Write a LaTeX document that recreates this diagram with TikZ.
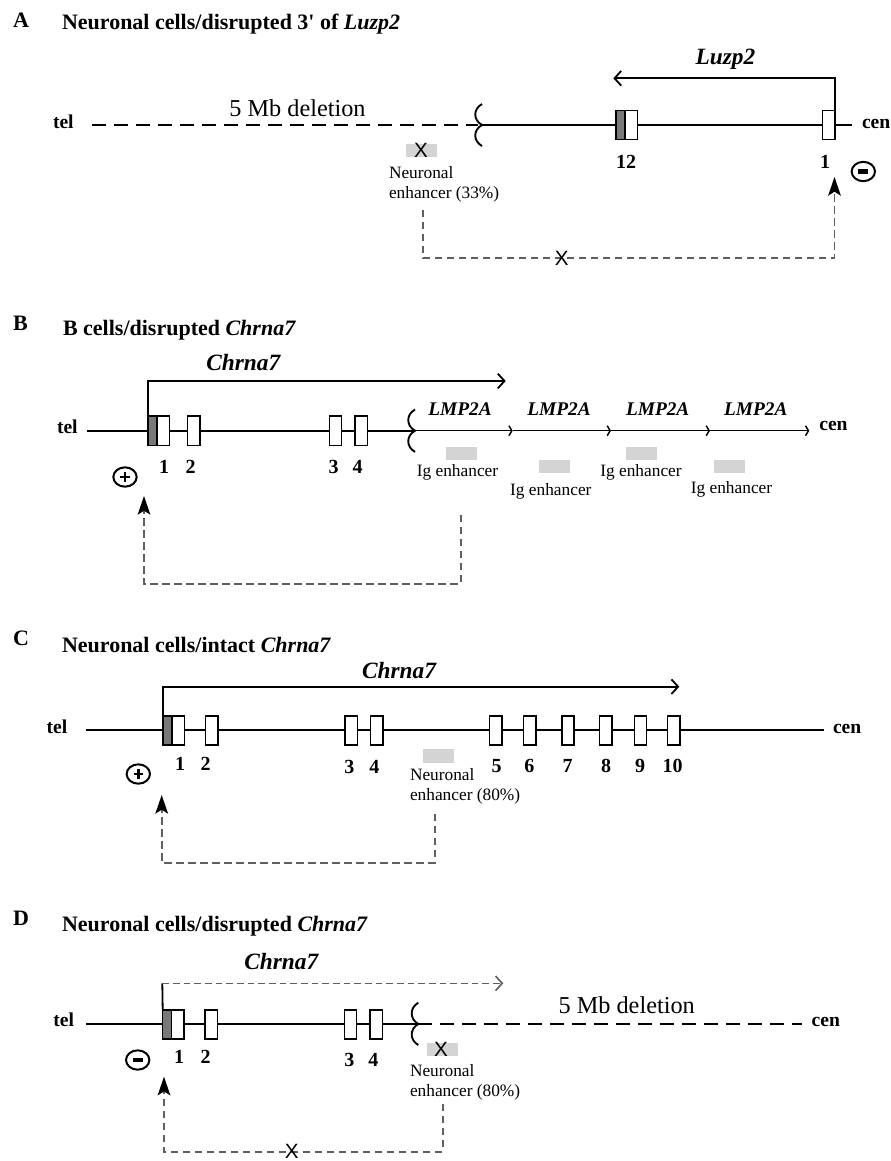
\documentclass[tikz,border=0pt]{standalone}
\usepackage{fontspec}
\setmainfont{Liberation Serif}
\newfontfamily\sansX{Liberation Sans}
\usetikzlibrary{arrows.meta,shapes.geometric}
\definecolor{enh}{RGB}{212,212,212}
\definecolor{exgray}{RGB}{120,120,120}
\definecolor{conncol}{RGB}{95,95,95}
\begin{document}
\begin{tikzpicture}[x=0.75pt,y=-0.75pt,
  every node/.style={inner sep=0pt, outer sep=0pt},
  panelletter/.style={font=\fontsize{16.5}{19}\selectfont\bfseries, anchor=base west},
  paneltitle/.style={font=\fontsize{16.5}{19}\selectfont\bfseries, anchor=base west},
  genelabel/.style={font=\fontsize{17.5}{20}\selectfont\bfseries\itshape, anchor=base},
  lmplabel/.style={font=\fontsize{14.5}{17}\selectfont\bfseries\itshape, anchor=base},
  endlabel/.style={font=\fontsize{14.7}{17}\selectfont\bfseries, anchor=base west},
  exnum/.style={font=\fontsize{15}{18}\selectfont\bfseries, anchor=base},
  enhtext/.style={font=\fontsize{13}{15.5}\selectfont, align=left, anchor=north west},
  igtext/.style={font=\fontsize{13}{15.5}\selectfont, anchor=base},
  deltext/.style={font=\fontsize{18.2}{21}\selectfont, anchor=base},
  xmark/.style={font=\fontsize{15.5}{15.5}\selectfont\sansX},
  exon/.style={draw=black, line width=1.15pt, fill=white, minimum width=9.3pt, minimum height=22pt},
  exongray/.style={exon, fill=exgray, minimum width=6.75pt},
  enhbox/.style={fill=enh, minimum width=23.3pt, minimum height=9.8pt},
  chrom/.style={line width=1.4pt},
  delline/.style={line width=1.4pt, dash pattern=on 10.5pt off 6pt},
  brk/.style={line width=1.4pt},
  tss/.style={line width=1.35pt, -{Straight Barb[length=5pt,width=11pt]}},
  tssdash/.style={draw=conncol, line width=1.2pt, dash pattern=on 5pt off 3pt, -{Straight Barb[length=5pt,width=11pt]}},
  lmparrow/.style={line width=1.1pt, -{Straight Barb[length=2.2pt,width=7.5pt]}},
  conn/.style={draw=conncol, line width=1.2pt, dash pattern=on 5.5pt off 3.5pt, -{Stealth[length=14pt,width=9.5pt,inset=3pt,color=black]}},
  signbase/.style={ellipse, draw, line width=1.5pt, minimum width=17.5pt, minimum height=14.5pt},
  signminus/.style={signbase, path picture={\fill ([xshift=-3.8pt,yshift=-1.6pt]path picture bounding box.center) rectangle ([xshift=3.8pt,yshift=1.6pt]path picture bounding box.center);}},
  signplus/.style={signbase, path picture={\draw[line width=1.8pt] ([xshift=-3.5pt]path picture bounding box.center) -- ([xshift=3.5pt]path picture bounding box.center) ([yshift=-3.5pt]path picture bounding box.center) -- ([yshift=3.5pt]path picture bounding box.center);}},
]
\useasboundingbox (0,0) rectangle (890,1161);

%%%%%%%%%%%%%%%%%%%% PANEL A
\node[panelletter] (aL) at (13,27) {A};
\node[paneltitle] (aT) at (62,29) {Neuronal cells/disrupted 3\textquotesingle{} of \textit{Luzp2}};
\node[endlabel] (atel) at (53,128.3) {tel};
\node[endlabel] (acen) at (862,128.3) {cen};
\coordinate (aS) at (92,125);
\coordinate (aBrk) at (482,125);
\coordinate (aE) at (852,125);
\draw[delline] (aS) -- (478,125);
\draw[chrom] (aBrk) -- (aE);
\draw[brk] (482,104) .. controls (473,109) and (473,120) .. (aBrk) .. controls (473,130) and (473,141) .. (482,146);
\node[deltext] (adel) at (297.5,116) {5 Mb deletion};
\node[exon] (a12) at (631.2,125) {};
\node[exongray, anchor=east] (a12g) at (a12.west) {};
\node[exon] (a1) at (828.8,125) {};
\node[exnum] (a12n) at (626,168.3) {12};
\node[exnum] (a1n) at (825,168.3) {1};
\coordinate (aLzEnd) at (613.3,78.3);
\draw[tss] (a1.north east) |- (aLzEnd);
\node[genelabel] (aLz) at (725.5,64.5) {Luzp2};
\node[enhbox] (aEnh) at (421.3,150.5) {};
\node[xmark] (aEnhX) at (421,150.5) {X};
\node[enhtext] (aEnhT) at (389,166.2) {Neuronal\\enhancer (33\%)};
\node[signminus] (aSign) at (863.3,171.5) {};
\coordinate (aES) at (422.7,210);
\coordinate (aCorner) at (834.5,258);
\coordinate (aPT) at (834.5,177);
\draw[conn] (aES) |- (aCorner) -- (aPT);
\node[xmark] (aConnX) at (561.7,258) {X};

%%%%%%%%%%%%%%%%%%%% PANEL B
\node[panelletter] (bL) at (13,330.7) {B};
\node[paneltitle] (bT) at (63,335) {B cells/disrupted \textit{Chrna7}};
\node[endlabel] (btel) at (57,433.3) {tel};
\node[endlabel] (bcen) at (819.3,430) {cen};
\coordinate (bS) at (87.3,430.7);
\coordinate (bBrk) at (415,430.7);
\coordinate (bl1) at (512.7,430.7);
\coordinate (bl2) at (611,430.7);
\coordinate (bl3) at (710,430.7);
\coordinate (bl4) at (809.3,430.7);
\draw[chrom] (bS) -- (bBrk);
\draw[brk] (415,409.5) .. controls (406,414.5) and (406,425.7) .. (bBrk) .. controls (406,435.7) and (406,446.9) .. (415,451.9);
\draw[lmparrow] (bBrk) -- (bl1);
\draw[lmparrow] (bl1) -- (bl2);
\draw[lmparrow] (bl2) -- (bl3);
\draw[lmparrow] (bl3) -- (bl4);
\node[exon] (b1) at (163.4,430.7) {};
\node[exongray, anchor=east] (b1g) at (b1.west) {};
\node[exon] (b2) at (193.7,430.7) {};
\node[exon] (b3) at (335.5,430.7) {};
\node[exon] (b4) at (361.3,430.7) {};
\node[exnum] (b1n) at (164,473.3) {1};
\node[exnum] (b2n) at (190.7,473.3) {2};
\node[exnum] (b3n) at (333.5,473.3) {3};
\node[exnum] (b4n) at (357.7,473.3) {4};
\coordinate (bChEnd) at (505.7,381);
\draw[tss] (b1g.north west) |- (bChEnd);
\node[genelabel] (bCh) at (243.3,370) {Chrna7};
\node[lmplabel] (bLmp1) at (460,415.7) {LMP2A};
\node[lmplabel] (bLmp2) at (559,415.7) {LMP2A};
\node[lmplabel] (bLmp3) at (657.7,415.7) {LMP2A};
\node[lmplabel] (bLmp4) at (755.7,415.7) {LMP2A};
\node[enhbox] (bE1) at (461.7,453.3) {};
\node[enhbox] (bE2) at (554.8,466.3) {};
\node[enhbox] (bE3) at (641.8,453.3) {};
\node[enhbox] (bE4) at (729.5,466.3) {};
\node[igtext] (bE1t) at (457.5,476.5) {Ig enhancer};
\node[igtext] (bE2t) at (550.8,495) {Ig enhancer};
\node[igtext] (bE3t) at (641,476.5) {Ig enhancer};
\node[igtext] (bE4t) at (731.5,493.3) {Ig enhancer};
\node[signplus] (bSign) at (125,477) {};
\coordinate (bES) at (460.7,515);
\coordinate (bCorner) at (144,584);
\coordinate (bPT) at (144,496);
\draw[conn] (bES) |- (bCorner) -- (bPT);

%%%%%%%%%%%%%%%%%%%% PANEL C
\node[panelletter] (cL) at (13,645.5) {C};
\node[paneltitle] (cT) at (62,652) {Neuronal cells/intact \textit{Chrna7}};
\node[endlabel] (ctel) at (46.7,733.3) {tel};
\node[endlabel] (ccen) at (833,733.3) {cen};
\coordinate (cS) at (86,730);
\coordinate (cE) at (824,730);
\draw[chrom] (cS) -- (cE);
\node[exon] (c1) at (178.3,730.5) {};
\node[exongray, anchor=east] (c1g) at (c1.west) {};
\node[exon] (c2) at (211.7,730.5) {};
\node[exon] (c3) at (351.2,730.5) {};
\node[exon] (c4) at (376.7,730.5) {};
\node[exon] (c5) at (495.7,730.5) {};
\node[exon] (c6) at (529.7,730.5) {};
\node[exon] (c7) at (568,730.5) {};
\node[exon] (c8) at (605.7,730.5) {};
\node[exon] (c9) at (640.5,730.5) {};
\node[exon] (c10) at (673.9,730.5) {};
\node[exnum] (c1n) at (180,770) {1};
\node[exnum] (c2n) at (205.5,770) {2};
\node[exnum] (c3n) at (349.3,773.3) {3};
\node[exnum] (c4n) at (374.3,773.3) {4};
\node[exnum] (c5n) at (496.7,772.7) {5};
\node[exnum] (c6n) at (529.3,772.7) {6};
\node[exnum] (c7n) at (567.7,772.7) {7};
\node[exnum] (c8n) at (606,772.7) {8};
\node[exnum] (c9n) at (640,772.7) {9};
\node[exnum] (c10n) at (672.7,772.7) {10};
\coordinate (cChEnd) at (679.3,686.7);
\draw[tss] (c1g.north west) |- (cChEnd);
\node[genelabel] (cCh) at (399,678.3) {Chrna7};
\node[enhbox] (cEnh) at (438.3,756) {};
\node[enhtext] (cEnhT) at (410,768.2) {Neuronal\\enhancer (80\%)};
\node[signplus] (cSign) at (138.3,774) {};
\coordinate (cES) at (435,814);
\coordinate (cCorner) at (161.7,862.7);
\coordinate (cPT) at (161.7,795);
\draw[conn] (cES) |- (cCorner) -- (cPT);

%%%%%%%%%%%%%%%%%%%% PANEL D
\node[panelletter] (dL) at (13,925) {D};
\node[paneltitle] (dT) at (62,931.7) {Neuronal cells/disrupted \textit{Chrna7}};
\node[endlabel] (dtel) at (53.3,1026.7) {tel};
\node[endlabel] (dcen) at (811.7,1026.7) {cen};
\coordinate (dS) at (86,1024);
\coordinate (dBrk) at (418.3,1024);
\coordinate (dE) at (801.7,1024);
\draw[chrom] (dS) -- (dBrk);
\draw[delline] (dBrk) -- (dE);
\draw[brk] (418.3,1002.7) .. controls (409.5,1007.7) and (409.5,1019) .. (dBrk) .. controls (409.5,1029) and (409.5,1040) .. (418.3,1045);
\node[deltext] (ddel) at (626.7,1013.3) {5 Mb deletion};
\node[exon] (d1) at (177.9,1024.5) {};
\node[exongray, anchor=east] (d1g) at (d1.west) {};
\node[exon] (d2) at (211.2,1024.5) {};
\node[exon] (d3) at (350.5,1024.5) {};
\node[exon] (d4) at (376.4,1024.5) {};
\node[exnum] (d1n) at (179,1063.3) {1};
\node[exnum] (d2n) at (205.7,1063.3) {2};
\node[exnum] (d3n) at (349.3,1066.7) {3};
\node[exnum] (d4n) at (373.3,1066.7) {4};
\coordinate (dTop) at (162.3,983.3);
\coordinate (dChEnd) at (503.3,983.3);
\draw[line width=1.35pt] (d1g.north west) -- (dTop);
\draw[tssdash] (dTop) -- (dChEnd);
\node[genelabel] (dCh) at (281.3,969.3) {Chrna7};
\node[enhbox] (dEnh) at (442.2,1049.5) {};
\node[xmark] (dEnhX) at (441,1049.5) {X};
\node[enhtext] (dEnhT) at (410,1064.2) {Neuronal\\enhancer (80\%)};
\node[signminus] (dSign) at (137.7,1060) {};
\coordinate (dES) at (442.7,1104);
\coordinate (dCorner) at (164,1151.7);
\coordinate (dPT) at (164,1076.7);
\draw[conn] (dES) |- (dCorner) -- (dPT);
\node[xmark] (dConnX) at (291.7,1151.7) {X};
\end{tikzpicture}
\end{document}
